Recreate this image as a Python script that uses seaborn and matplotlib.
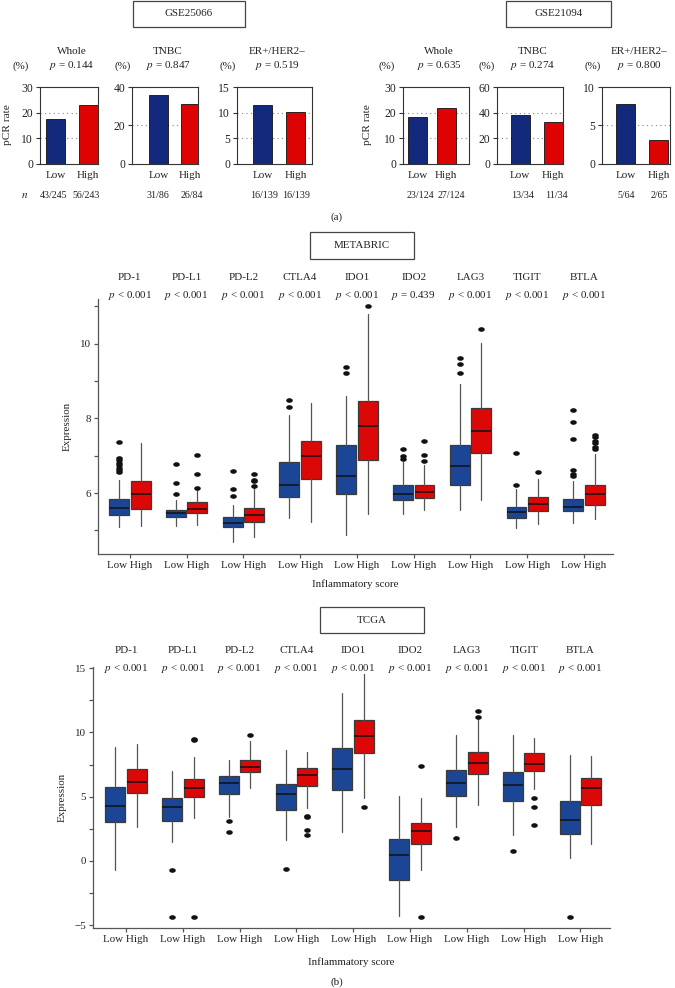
import matplotlib
matplotlib.use("Agg")
import matplotlib.pyplot as plt
import seaborn as sns
from matplotlib.patches import Rectangle
from matplotlib.path import Path
from matplotlib.transforms import Affine2D

# ------------------------- data: panel (a) -------------------------
SUBSETS = ["Whole", "TNBC", "ER+/HER2–"]
GROUPS = ["Low", "High"]

GSE25066_LOW = [17.6, 36.0, 11.5]
GSE25066_HIGH = [23.0, 31.0, 10.1]
GSE25066_P = ["0.144", "0.847", "0.519"]
GSE25066_N_LOW = ["43/245", "31/86", "16/139"]
GSE25066_N_HIGH = ["56/243", "26/84", "16/139"]

GSE21094_LOW = [18.5, 38.3, 7.8]
GSE21094_HIGH = [21.8, 32.4, 3.1]
GSE21094_P = ["0.635", "0.274", "0.800"]
GSE21094_N_LOW = ["23/124", "13/34", "5/64"]
GSE21094_N_HIGH = ["27/124", "11/34", "2/65"]

# ------------------------- data: panel (b) -------------------------
GENES = ["PD-1", "PD-L1", "PD-L2", "CTLA4", "IDO1", "IDO2", "LAG3", "TIGIT", "BTLA"]

METABRIC_P = ["< 0.001", "< 0.001", "< 0.001", "< 0.001", "< 0.001",
              "= 0.439", "< 0.001", "< 0.001", "< 0.001"]
# (whisker low, Q1, median, Q3, whisker high)
METABRIC_LOW = [(5.09, 5.41, 5.61, 5.83, 6.35), (5.12, 5.36, 5.46, 5.55, 5.81),
                (4.70, 5.09, 5.20, 5.37, 5.67), (5.33, 5.90, 6.21, 6.83, 8.08),
                (4.88, 5.97, 6.45, 7.28, 8.61), (5.43, 5.81, 5.98, 6.23, 6.83),
                (5.55, 6.21, 6.72, 7.30, 8.91), (5.06, 5.34, 5.49, 5.64, 6.10),
                (5.19, 5.51, 5.63, 5.83, 6.32)]
METABRIC_LOW_FLIERS = [[6.56, 6.62, 6.68, 6.75, 6.82, 6.88, 6.94, 7.38],
                       [5.97, 6.26, 6.77], [5.92, 6.10, 6.59], [8.30, 8.50],
                       [9.22, 9.39], [6.91, 6.99, 7.17], [9.22, 9.46, 9.62],
                       [6.21, 7.07], [6.47, 6.51, 6.63, 7.44, 7.90, 8.22]]
METABRIC_HIGH = [(5.12, 5.58, 5.97, 6.32, 7.34), (5.14, 5.47, 5.57, 5.75, 6.08),
                 (4.83, 5.23, 5.41, 5.61, 6.15), (5.23, 6.37, 6.99, 7.41, 8.41),
                 (5.43, 6.89, 7.79, 8.47, 10.79), (5.55, 5.87, 6.03, 6.23, 6.75),
                 (5.81, 7.07, 7.66, 8.27, 10.03), (5.17, 5.51, 5.71, 5.89, 6.39),
                 (5.31, 5.68, 5.97, 6.23, 7.06)]
METABRIC_HIGH_FLIERS = [[], [6.15, 6.50, 7.01], [6.20, 6.32, 6.36, 6.50], [],
                        [11.01], [6.85, 7.03, 7.39], [10.39], [6.57],
                        [7.19, 7.24, 7.33, 7.41, 7.50, 7.57]]

TCGA_P = ["< 0.001", "< 0.001", "< 0.001", "< 0.001", "< 0.001",
          "< 0.001", "< 0.001", "< 0.001", "< 0.001"]
TCGA_LOW = [(-0.73, 3.02, 4.30, 5.73, 8.85), (1.48, 3.10, 4.17, 4.92, 6.98),
            (3.38, 5.21, 6.09, 6.64, 7.89), (1.62, 3.93, 5.21, 5.99, 8.67),
            (2.21, 5.55, 7.16, 8.77, 13.07), (-4.32, -1.51, 0.45, 1.70, 5.08),
            (2.60, 5.08, 6.09, 7.11, 9.82), (2.00, 4.69, 5.91, 6.95, 9.77),
            (0.26, 2.13, 3.20, 4.69, 8.28)]
TCGA_LOW_FLIERS = [[], [-0.73, -4.37], [2.24, 3.07], [-0.60], [], [], [1.77],
                   [0.78], [-4.37]]
TCGA_HIGH = [(2.60, 5.26, 6.15, 7.19, 9.12), (3.30, 4.95, 5.70, 6.38, 8.07),
             (5.65, 6.90, 7.32, 7.89, 9.30), (4.09, 5.80, 6.70, 7.24, 8.46),
             (4.90, 8.38, 9.71, 11.00, 14.58), (-0.68, 1.35, 2.32, 2.91, 4.90),
             (4.37, 6.77, 7.60, 8.45, 11.07), (5.60, 7.03, 7.55, 8.41, 9.59),
             (1.29, 4.32, 5.65, 6.43, 8.20)]
TCGA_HIGH_FLIERS = [[], [-4.37, 9.45, 9.52], [9.77], [2.03, 2.40, 3.44, 3.52],
                    [4.17], [-4.37, 7.37], [11.20, 11.64], [2.79, 4.17, 4.87], []]

# ------------------------- style -------------------------
W, H = 675, 988
BAR_BLUE, BAR_RED = "#13297b", "#dd0303"
BOX_BLUE, BOX_RED = "#1b4696", "#dc0808"
TXT = "#222222"

sns.set_theme(style="white")
plt.rcParams["font.family"] = ["Liberation Serif", "DejaVu Serif"]
plt.rcParams["mathtext.fontset"] = "stix"
plt.rcParams["text.color"] = TXT
plt.rcParams["axes.edgecolor"] = "#333333"
plt.rcParams["xtick.color"] = "#333333"
plt.rcParams["ytick.color"] = "#333333"
plt.rcParams["xtick.labelcolor"] = TXT
plt.rcParams["ytick.labelcolor"] = TXT

fig = plt.figure(figsize=(W / 100, H / 100), dpi=100)


def fx(x):
    return x / W


def fy(y):
    return 1 - y / H


def add_ax(x0, y0, x1, y1):
    return fig.add_axes([fx(x0), fy(y1), (x1 - x0) / W, (y1 - y0) / H])


def ftext(x, y, s, **kw):
    kw.setdefault("ha", "center")
    kw.setdefault("va", "center")
    kw.setdefault("fontsize", 7.8)
    fig.text(fx(x), fy(y), s, **kw)


def title_box(x0, y0, x1, y1, label):
    fig.add_artist(Rectangle((fx(x0), fy(y1)), (x1 - x0) / W, (y1 - y0) / H,
                             transform=fig.transFigure, fill=False,
                             lw=0.9, ec="#444444"))
    ftext((x0 + x1) / 2, (y0 + y1) / 2, label, fontsize=7.9)


# ------------------------- panel (a) -------------------------
title_box(133, 1, 245, 27, "GSE25066")
title_box(506, 1, 611, 27, "GSE21094")

# layout: axes pixel extents, bar centres and n-label centres (pixels)
bar_axes_px = [(40, 98), (132, 198), (237, 312), (403, 469), (497, 563), (602, 670)]
bar_centres_px = [(55.5, 88.0), (158.5, 190.3), (262.8, 295.8),
                  (417.5, 446.0), (520.3, 553.3), (625.5, 658.5)]
nlabel_px = [(54, 86), (158, 192), (264, 296), (420, 451), (523, 556), (626, 659)]
bar_ylims = [(30, [0, 10, 20, 30]), (40, [0, 20, 40]), (15, [0, 5, 10, 15]),
             (30, [0, 10, 20, 30]), (60, [0, 20, 40, 60]), (10, [0, 5, 10])]
pct_offsets = [19, 9, 9, 16, 10, 9]
ylabel_px = [8, 368]

datasets = [(GSE25066_LOW, GSE25066_HIGH, GSE25066_P, GSE25066_N_LOW, GSE25066_N_HIGH),
            (GSE21094_LOW, GSE21094_HIGH, GSE21094_P, GSE21094_N_LOW, GSE21094_N_HIGH)]

k = 0
for d, (lows, highs, ps, nlow, nhigh) in enumerate(datasets):
    for j, sub in enumerate(SUBSETS):
        x0, x1 = bar_axes_px[k]
        c0, c1 = bar_centres_px[k]
        unit = c1 - c0
        ax = add_ax(x0, 87, x1, 164)
        sns.barplot(x=GROUPS, y=[lows[j], highs[j]], hue=GROUPS,
                    palette=[BAR_BLUE, BAR_RED], legend=False, saturation=1,
                    width=19.0 / unit, edgecolor="#111111", linewidth=0.6,
                    ax=ax, zorder=3)
        top, ticks = bar_ylims[k]
        ax.set_ylim(0, top)
        ax.set_yticks(ticks)
        ax.set_xlim((x0 - c0) / unit, 1 + (x1 - c1) / unit)
        for t in ticks[1:-1]:
            ax.axhline(t, color="#888888", lw=0.8, ls=(0, (1, 3)), zorder=1)
        ax.set_xlabel("")
        ax.set_ylabel("")
        for s in ax.spines.values():
            s.set_visible(True)
            s.set_linewidth(0.8)
        ax.tick_params(axis="y", left=True, length=3, width=0.8, pad=2, labelsize=8.4)
        ax.tick_params(axis="x", bottom=False, length=0, pad=5, labelsize=8)
        cx = (x0 + x1) / 2 + 3
        ftext(cx, 52, sub, fontsize=8)
        ftext(cx, 66, "$p$ = " + ps[j], fontsize=8)
        ftext(x0 - pct_offsets[k], 66, "(%)", fontsize=7.8)
        n0, n1 = nlabel_px[k]
        ftext(n0, 196, nlow[j], fontsize=7.2)
        ftext(n1, 196, nhigh[j], fontsize=7.2)
        if j == 0:
            ftext(ylabel_px[d], 125, "pCR rate", rotation=90, fontsize=8.2)
        k += 1

ftext(25, 196, "$n$", fontsize=8)
ftext(337, 217, "(a)", fontsize=8)

# ------------------------- panel (b) -------------------------
ellipse = Path.unit_circle().transformed(Affine2D().scale(1.0, 0.62))


def make_stats(boxes, fliers):
    return [dict(whislo=b[0], q1=b[1], med=b[2], q3=b[3], whishi=b[4], fliers=f)
            for b, f in zip(boxes, fliers)]


def box_panel(x0, y0, x1, y1, xlim, ylim, low, lowf, high, highf, pvals,
              gene_y, p_y, major, minor, xlabel_y, ylabel_x):
    from matplotlib.transforms import blended_transform_factory
    ax = add_ax(x0, y0, x1, y1)
    pos = list(range(len(GENES)))
    common = dict(widths=0.35, patch_artist=True, showcaps=False,
                  whiskerprops=dict(color="#555555", lw=0.9),
                  medianprops=dict(color="#111111", lw=1.1),
                  flierprops=dict(marker=ellipse, markerfacecolor="#111111",
                                  markeredgecolor="#111111", markersize=3.7,
                                  linestyle="none"),
                  manage_ticks=False)
    for stats, off, col in [(make_stats(low, lowf), -0.19, BOX_BLUE),
                            (make_stats(high, highf), 0.19, BOX_RED)]:
        ax.bxp(stats, positions=[p + off for p in pos],
               boxprops=dict(facecolor=col, edgecolor="#3a3a3a", lw=0.9), **common)
    ax.set_xlim(*xlim)
    ax.set_ylim(*ylim)
    ax.set_xticks(pos)
    ax.set_xticklabels(["Low High"] * len(GENES))
    ax.set_yticks(major)
    ax.set_yticks(minor, minor=True)
    ax.set_yticklabels([f"{v:g}".replace("-", "−") for v in major])
    sns.despine(ax=ax)
    for s in ["left", "bottom"]:
        ax.spines[s].set_linewidth(0.9)
        ax.spines[s].set_color("#555555")
    ax.tick_params(axis="both", which="both", direction="out", length=3,
                   width=0.9, color="#555555")
    ax.tick_params(axis="x", bottom=True, pad=2, labelsize=7.9)
    ax.tick_params(axis="y", left=True, which="both", pad=2, labelsize=7.9)
    tr = blended_transform_factory(ax.transData, fig.transFigure)
    for i, g in enumerate(GENES):
        ax.text(i, fy(gene_y), g, transform=tr, ha="center", va="center", fontsize=7.9)
        ax.text(i, fy(p_y), "$p$ " + pvals[i], transform=tr, ha="center",
                va="center", fontsize=7.9)
    ftext((x0 + x1) / 2, xlabel_y, "Inflammatory score", fontsize=7.9)
    ftext(ylabel_x, (y0 + y1) / 2, "Expression", rotation=90, fontsize=7.9)
    return ax


title_box(310, 232, 414, 259, "METABRIC")
box_panel(98, 299, 613, 554, (-0.56, 8.51), (4.37, 11.2),
          METABRIC_LOW, METABRIC_LOW_FLIERS, METABRIC_HIGH, METABRIC_HIGH_FLIERS,
          METABRIC_P, 277, 295, [6, 8, 10], [5, 7, 9, 11], 584, 67)

title_box(320, 607, 424, 633, "TCGA")
box_panel(93, 667, 610, 928, (-0.58, 8.52), (-5.23, 15.1),
          TCGA_LOW, TCGA_LOW_FLIERS, TCGA_HIGH, TCGA_HIGH_FLIERS,
          TCGA_P, 650, 668, [-5, 0, 5, 10, 15], [-2.5, 2.5, 7.5, 12.5], 962, 62)

ftext(337, 982, "(b)", fontsize=8)

fig.savefig("out.png", dpi=100)
